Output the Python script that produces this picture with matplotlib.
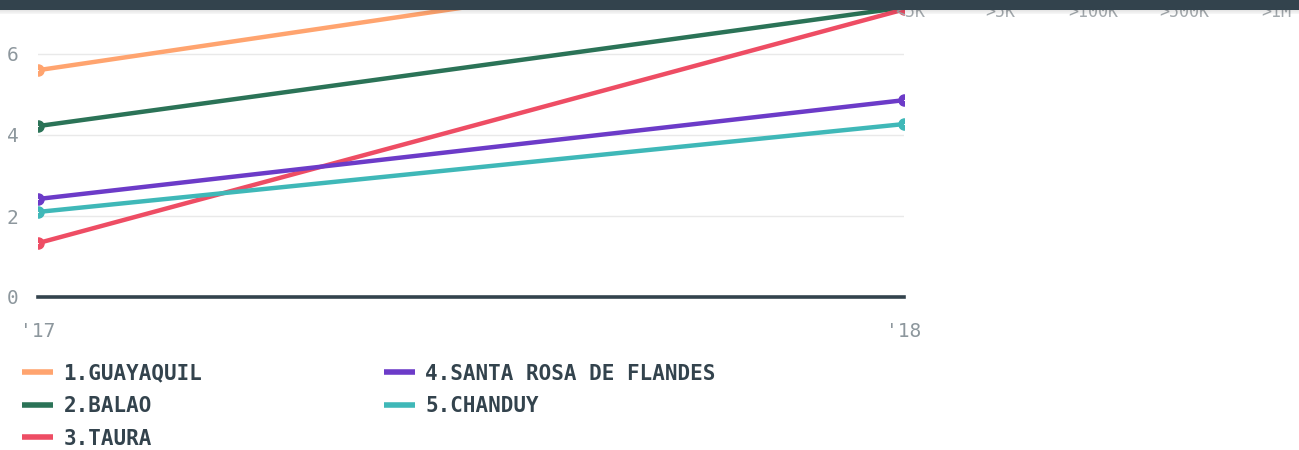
import matplotlib.pyplot as plt
from matplotlib.patches import Rectangle

years = ["'17", "'18"]
names = ["1.GUAYAQUIL", "2.BALAO", "3.TAURA", "4.SANTA ROSA DE FLANDES", "5.CHANDUY"]
guayaquil = [5.6, 8.75]
balao = [4.22, 7.15]
taura = [1.33, 7.1]
santa_rosa = [2.42, 4.86]
chanduy = [2.1, 4.27]
colors = ["#ffa46f", "#2b7357", "#ee4d64", "#6c3bc8", "#3fb8b8"]
yticks = [0, 2, 4, 6]
header_labels = ["<5K", ">5K", ">100K", ">500K", ">1M"]
header_x = [910, 1000, 1093, 1184, 1276]

W, H = 1299, 450
dark = "#33434d"
grey = "#8d979d"

fig = plt.figure(figsize=(W / 100, H / 100), dpi=100)
ax = fig.add_axes([38 / W, (H - 297) / H, (904 - 38) / W, 297 / H])

xs = [0, 1]
series = [guayaquil, balao, taura, santa_rosa, chanduy]
for vals, name, c in zip(series, names, colors):
	ax.plot(xs, vals, color=c, lw=3.2, marker="o", ms=8, mfc=c, mec=c,
		solid_capstyle="butt", label=name, zorder=3)
	ax.plot(xs, vals, ls="none", marker="o", ms=0.8, mew=0, color="white", zorder=4)

ax.set_xlim(0, 1)
ax.set_ylim(0, 297 / 40.5)
for y in yticks[1:]:
	ax.axhline(y, color="#e9e9e9", lw=1, zorder=1)
ax.axhline(0, color=dark, lw=2.6, zorder=5, clip_on=False)

for s in ax.spines.values():
	s.set_visible(False)
ax.set_xticks(xs)
ax.set_xticklabels(years, family="DejaVu Sans Mono", fontsize=14, color=grey)
ax.set_yticks(yticks)
ax.set_yticklabels([str(v) for v in yticks], family="DejaVu Sans Mono", fontsize=14, color=grey)
ax.tick_params(axis="x", length=0, pad=18)
ax.tick_params(axis="y", length=0, pad=14)

leg = fig.legend(loc="upper left", bbox_to_anchor=(3 / W, 1 - 345 / H), ncol=2,
	frameon=False, handlelength=1.5, handletextpad=0.5, columnspacing=8.7,
	labelspacing=0.6, prop={"family": "DejaVu Sans Mono", "weight": "bold", "size": 15})
for t in leg.get_texts():
	t.set_color(dark)
for h in leg.legend_handles:
	h.set_linewidth(4)
	h.set_marker("")

# header bar with partly hidden labels
for lab, x in zip(header_labels, header_x):
	fig.text(x / W, 1 - 12 / H, lab, ha="center", va="center", fontsize=12,
		color="#a3a9ad", family="DejaVu Sans Mono", zorder=10)
for i in range(5):
	fig.add_artist(Rectangle((0, 1 - (10 + i) / H), 1, 1 / H, transform=fig.transFigure,
		color="black", alpha=0.12 - i * 0.02, lw=0, zorder=19))
fig.add_artist(Rectangle((0, 1 - 10 / H), 1, 10 / H, transform=fig.transFigure,
	color=dark, lw=0, zorder=20))

fig.savefig("out.png", dpi=100)
